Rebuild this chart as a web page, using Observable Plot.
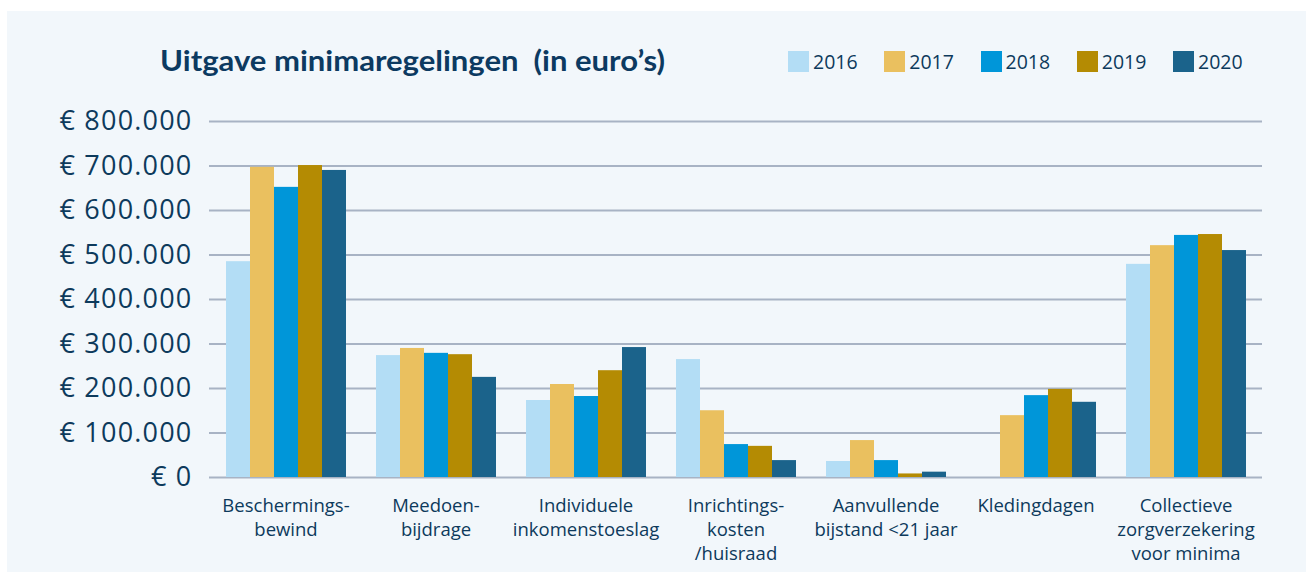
<!DOCTYPE html>
<html><head><meta charset="utf-8">
<script src="https://cdn.jsdelivr.net/npm/d3@7"></script>
<script src="https://cdn.jsdelivr.net/npm/@observablehq/plot@0.6"></script>
<style>
html,body{margin:0;padding:0;background:#fff;width:1306px;height:572px;overflow:hidden;font-family:"Open Sans",Lato,sans-serif;}
#panel{position:absolute;left:7px;top:11px;right:0;bottom:0;background:#f2f7fb;}
#title{position:absolute;left:160px;top:43px;font-family:Lato,sans-serif;font-size:29px;line-height:1.2;font-weight:700;color:#0c3a61;white-space:pre;transform-origin:0 0;}
#legend{position:absolute;left:788px;top:50px;display:flex;}
.item{display:flex;align-items:center;width:96.25px;font-size:19.5px;line-height:1.2;color:#0d3a5c;}
.sw{width:21px;height:21px;margin-right:4px;flex:none;}
#chart{position:absolute;left:0;top:100px;width:1306px;height:472px;}
#chart svg{position:absolute;left:0;top:0;}
.ytick text{letter-spacing:1.2px;}
</style></head><body>
<div id="panel"></div>
<div id="title">Uitgave minimaregelingen  (in euro’s)</div>
<div id="legend"></div>
<div id="chart"></div>
<script>
const categories = ["Beschermingsbewind","Meedoenbijdrage","Individuele inkomenstoeslag","Inrichtingskosten/huisraad","Aanvullende bijstand <21 jaar","Kledingdagen","Collectieve zorgverzekering voor minima"];
const tickLabels = ["Beschermings-\nbewind","Meedoen-\nbijdrage","Individuele\ninkomenstoeslag","Inrichtings-\nkosten\n/huisraad","Aanvullende\nbijstand <21 jaar","Kledingdagen","Collectieve\nzorgverzekering\nvoor minima"];
const years = ["2016","2017","2018","2019","2020"];
const colors = ["#b3ddf5","#eac05f","#0096d9","#b48b03","#1b638b"];
const v2016 = [485000, 274000, 173000, 265000, 36000, 0, 479000];
const v2017 = [697000, 290000, 209000, 150000, 83000, 139000, 521000];
const v2018 = [652000, 279000, 182000, 74000, 38000, 184000, 544000];
const v2019 = [701000, 276000, 240000, 70000, 8000, 198000, 546000];
const v2020 = [690000, 225000, 292000, 38000, 12000, 169000, 510000];
const yTicks = [0, 100000, 200000, 300000, 400000, 500000, 600000, 700000, 800000];

const series = [v2016, v2017, v2018, v2019, v2020];
const data = [];
years.forEach((yr, i) => series[i].forEach((v, j) => data.push({category: categories[j], year: yr, value: v})));

const fmt = d3.formatLocale({decimal: ",", thousands: ".", grouping: [3], currency: ["€", ""]}).format(",.0f");

// legend
const leg = document.getElementById("legend");
years.forEach((yr, i) => {
  const it = document.createElement("div"); it.className = "item";
  const sw = document.createElement("div"); sw.className = "sw"; sw.style.background = colors[i];
  const tx = document.createElement("span"); tx.textContent = yr;
  it.appendChild(sw); it.appendChild(tx); leg.appendChild(it);
});

// title width fit
const t = document.getElementById("title");
const w = t.getBoundingClientRect().width;
t.style.transform = `scaleX(${505 / w})`;

const common = {
  width: 1306, height: 472,
  marginLeft: 209, marginRight: 44, marginTop: 21, marginBottom: 95,
  style: {fontFamily: "'Open Sans', Lato, sans-serif", background: "transparent", color: "#0d3a5c", overflow: "visible"},
  y: {domain: [0, 800000], ticks: yTicks, label: null}
};

// underlying plot: gridlines + y axis
const grid = Plot.plot({
  ...common,
  marks: [
    Plot.ruleY(yTicks, {stroke: "#a8b3c4", strokeWidth: 2}),
    Plot.axisY({ticks: yTicks, tickSize: 0, tickPadding: 17, tickFormat: d => "€ " + fmt(d), fontSize: 27, label: null, className: "ytick"})
  ]
});

// bars plot, faceted by category
const bars = Plot.plot({
  ...common,
  fx: {domain: categories, paddingInner: 0.18, paddingOuter: 0.1, label: null},
  x: {domain: years, padding: 0, axis: null},
  y: {domain: [0, 800000], axis: null},
  color: {domain: years, range: colors},
  marks: [
    Plot.barY(data, {fx: "category", x: "year", y: "value", fill: "year", inset: 0}),
    Plot.axisFx({anchor: "bottom", tickSize: 0, tickPadding: 17, fontSize: 18.5, lineHeight: 1.3, tickFormat: d => tickLabels[categories.indexOf(d)], label: null})
  ]
});
const c = document.getElementById("chart");
c.appendChild(grid);
c.appendChild(bars);
</script>
</body></html>
